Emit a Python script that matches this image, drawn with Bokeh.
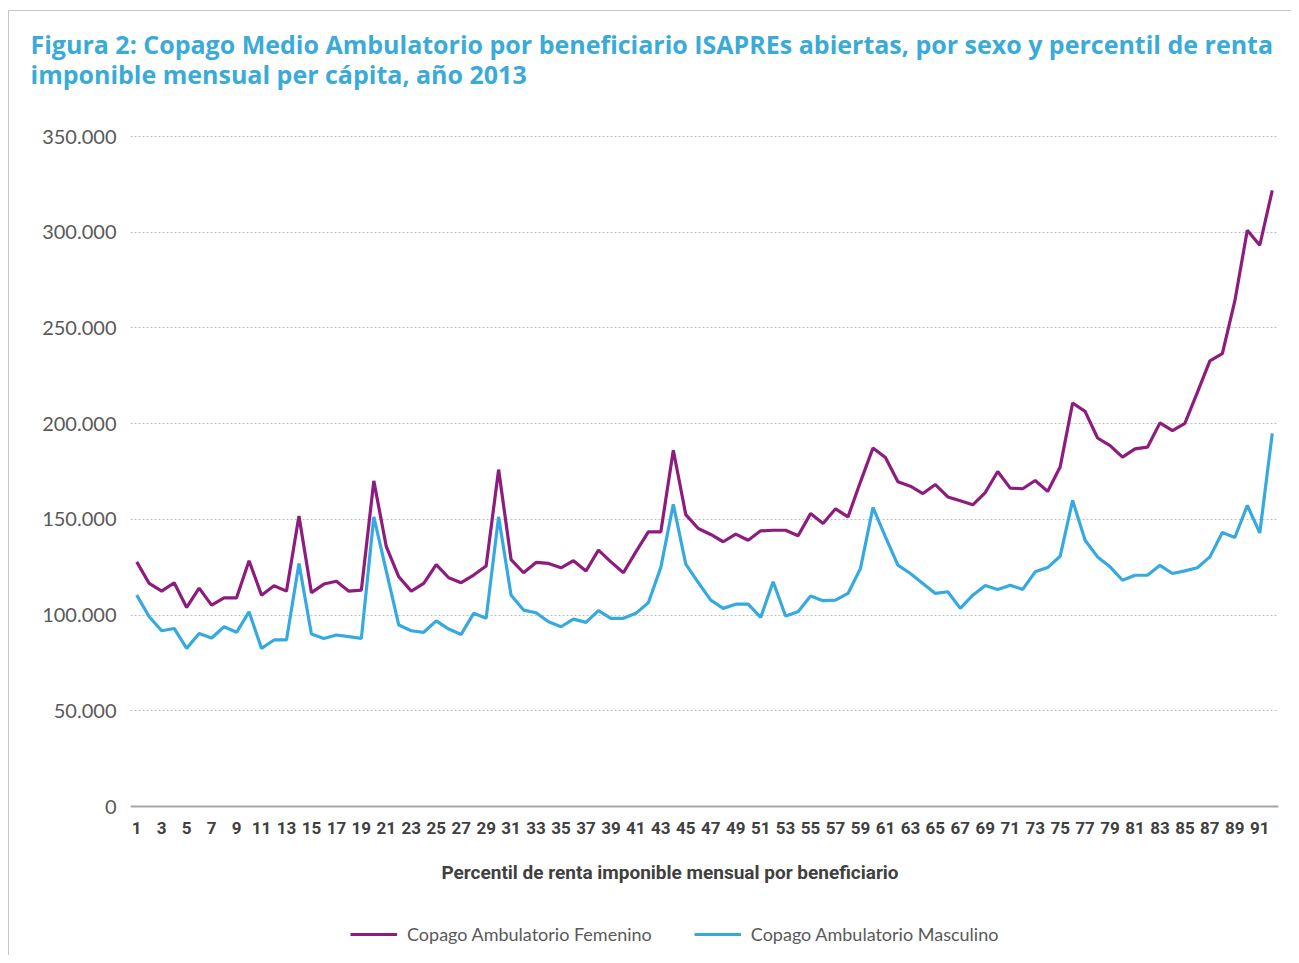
from bokeh.plotting import figure
from bokeh.models import Legend, LegendItem, FixedTicker, Range1d, Title, Label
from bokeh.embed import file_html
from bokeh.resources import INLINE

percentiles = list(range(1, 93))
femenino = [127800, 116500, 112500, 116900, 104000, 114100, 105200, 109000, 109000, 128400,
            110400, 115300, 112500, 151800, 111700, 116200, 117700, 112500, 113000, 170100,
            135700, 120000, 112500, 116500, 126300, 119500, 116900, 120900, 125600, 176000,
            129000, 122100, 127500, 127000, 124700, 128400, 123000, 133900, 127800, 122100,
            133000, 143500, 143500, 186100, 152500, 145200, 142100, 138300, 142300, 139100,
            144000, 144300, 144300, 141400, 153000, 147800, 155500, 151300, 169600, 187300,
            182300, 169600, 167300, 163500, 168200, 161700, 159700, 157600, 164000, 175000,
            166300, 166000, 170300, 164600, 177300, 210800, 206400, 192500, 188500, 182500,
            186800, 187700, 200400, 196400, 200200, 216300, 232800, 236600, 264100, 301000,
            293200, 321900]
masculino = [110400, 99100, 91800, 93000, 82600, 90400, 88000, 93900, 91000, 101700,
             82600, 87000, 87000, 127000, 90100, 87800, 89600, 88700, 87800, 151300,
             123000, 94800, 91800, 91000, 97000, 92700, 89900, 100900, 98300, 151300,
             110400, 102600, 101200, 96500, 93900, 97900, 96200, 102300, 98300, 98300,
             100900, 106400, 124900, 157900, 126600, 117000, 107800, 103500, 105700, 105700,
             98800, 117400, 99500, 101700, 109900, 107500, 107800, 111300, 124400, 156200,
             140900, 126100, 121700, 116500, 111300, 112200, 103500, 110400, 115400, 113400,
             115600, 113400, 122600, 124800, 130700, 159900, 139100, 130400, 125200, 118200,
             120800, 120800, 126000, 121700, 123100, 124700, 130400, 143100, 140500, 157300,
             142900, 194900]
y_ticks = [0, 50000, 100000, 150000, 200000, 250000, 300000, 350000]
y_tick_labels = ["0", "50.000", "100.000", "150.000", "200.000", "250.000", "300.000", "350.000"]
x_ticks = list(range(1, 92, 2))

title_text = ("Figura 2: Copago Medio Ambulatorio por beneficiario ISAPREs abiertas, por sexo y percentil de renta\n"
              "imponible mensual per cápita, año 2013")
x_title = "Percentil de renta imponible mensual por beneficiario"
series_names = ["Copago Ambulatorio Femenino", "Copago Ambulatorio Masculino"]

FEM_COLOR = "#8E1B7E"
MAS_COLOR = "#36AAE0"
TITLE_COLOR = "#3AABD7"
FRAME_COLOR = "#C8C8C8"

W, H = 1291, 955
FL, FT = 130, 114          # frame left / top (px); frame top lies above the top gridline
FR = 1278                  # frame right (px)
TOP_PX = 136               # pixel row of the top tick value
ZERO_PX = 806              # pixel row of the value 0
Y_TOP = 350000
X0, X1 = 0.5, 92.5
PX_PER_UNIT = (ZERO_PX - TOP_PX) / Y_TOP
Y_HIGH = (ZERO_PX - FT) / PX_PER_UNIT
Y_LOW = -(H - ZERO_PX) / PX_PER_UNIT   # frame extends to the bottom, below the axis

p = figure(width=W, height=H, output_backend="svg", toolbar_location=None,
           x_range=Range1d(X0, X1), y_range=Range1d(Y_LOW, Y_HIGH),
           min_border_left=FL, min_border_right=W - FR,
           min_border_top=FT, min_border_bottom=0)
p.outline_line_color = None
p.border_fill_color = None
p.background_fill_color = None
p.styles = {"background": (f"linear-gradient({FRAME_COLOR},{FRAME_COLOR}) 8px 10px / 1px 100% no-repeat, "
                           f"linear-gradient({FRAME_COLOR},{FRAME_COLOR}) 8px 10px / 100% 1px no-repeat, white")}

def dx(px):
    return X0 + (px - FL) * (X1 - X0) / (FR - FL)

def dy(py):
    return (ZERO_PX - py) / PX_PER_UNIT

p.xgrid.visible = False
p.ygrid.grid_line_color = "#BFBFBF"
p.ygrid.grid_line_dash = "2 2"
p.ygrid.grid_line_width = 1
p.ygrid.ticker = FixedTicker(ticks=y_ticks)

p.yaxis.ticker = FixedTicker(ticks=y_ticks)
p.yaxis.major_label_overrides = {t: l for t, l in zip(y_ticks, y_tick_labels)}
p.yaxis.axis_line_color = None
p.yaxis.major_tick_line_color = None
p.yaxis.minor_tick_line_color = None
p.yaxis.major_tick_out = 0
p.yaxis.major_label_standoff = 14
p.yaxis.major_label_text_font = "Lato"
p.yaxis.major_label_text_font_size = "20px"
p.yaxis.major_label_text_color = "#595959"

p.xaxis.fixed_location = 0
p.xaxis.ticker = FixedTicker(ticks=x_ticks)
p.xaxis.axis_line_color = "#A6A6A6"
p.xaxis.axis_line_width = 2
p.xaxis.major_tick_line_color = None
p.xaxis.minor_tick_line_color = None
p.xaxis.major_tick_out = 0
p.xaxis.major_label_standoff = 15
p.xaxis.major_label_text_font = "Roboto"
p.xaxis.major_label_text_font_style = "bold"
p.xaxis.major_label_text_font_size = "17px"
p.xaxis.major_label_text_color = "#404040"

r_f = p.line(percentiles, femenino, line_color=FEM_COLOR, line_width=3.2)
r_m = p.line(percentiles, masculino, line_color=MAS_COLOR, line_width=3.2)

# Main title (two lines), left aligned at x=30
title = Title(text=title_text, align="left", offset=30 - FL, standoff=47,
              text_color=TITLE_COLOR, text_font="Open Sans", text_font_style="bold",
              text_font_size="25px", text_line_height=0.88)
p.add_layout(title, "above")

# X axis title
p.add_layout(Label(x=dx(669.5), y=dy(872), text=x_title, text_align="center",
                   text_baseline="middle", text_color="#404040", text_font="Roboto",
                   text_font_style="bold", text_font_size="19px"))

legend = Legend(items=[LegendItem(label=series_names[0], renderers=[r_f]),
                       LegendItem(label=series_names[1], renderers=[r_m])],
                orientation="horizontal", location=(350 - FL, H - 945),
                padding=0, margin=0, spacing=42, glyph_width=47, glyph_height=20,
                label_standoff=10, label_height=20,
                label_text_font="Lato", label_text_font_size="18px", label_text_color="#595959",
                background_fill_alpha=0, border_line_alpha=0)
p.add_layout(legend, "center")

open("out.html", "w").write(file_html(p, INLINE))
